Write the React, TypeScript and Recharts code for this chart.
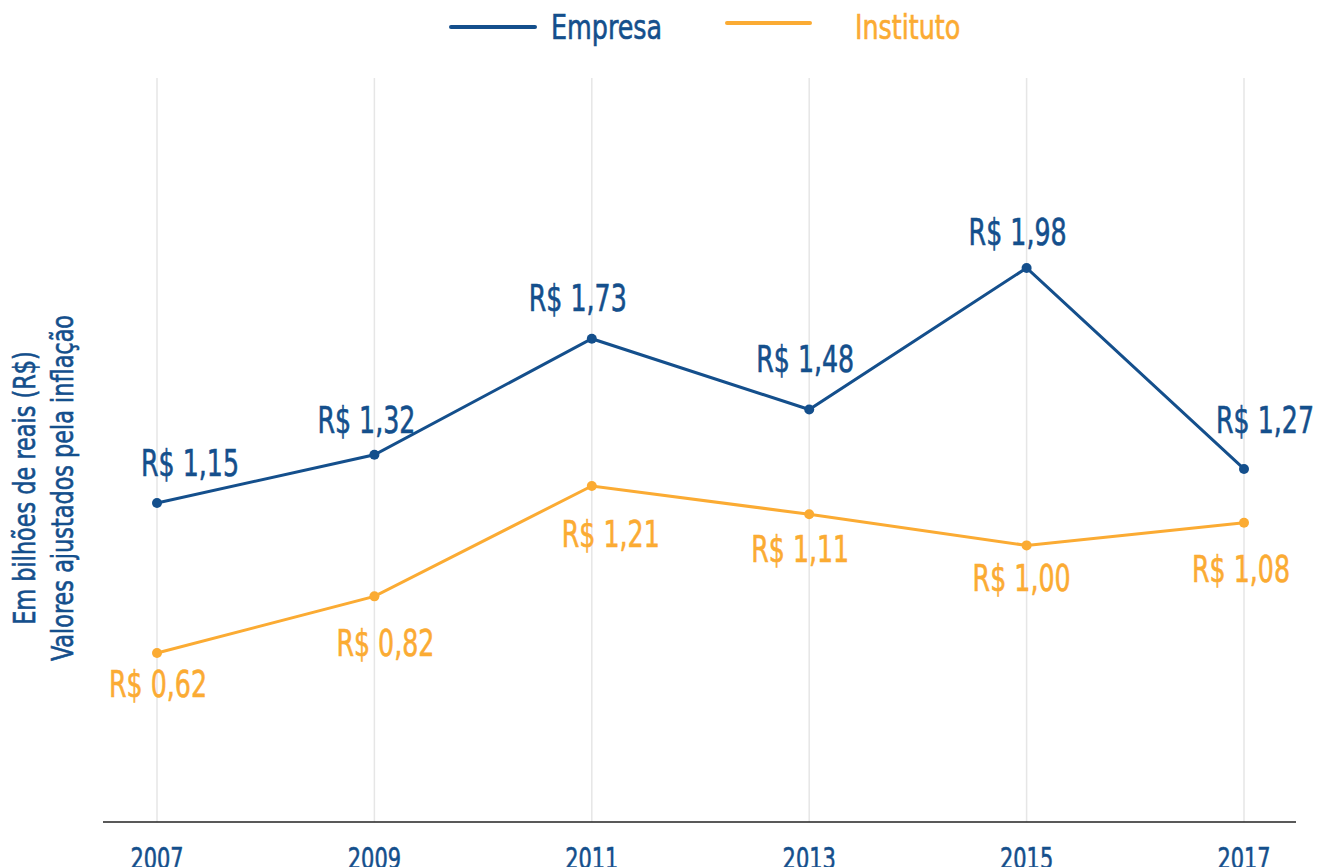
import React from 'react';
import { LineChart, Line, XAxis, YAxis, ReferenceLine, LabelList } from 'recharts';

const years = ['2007', '2009', '2011', '2013', '2015', '2017'];
const empresa = [1.15, 1.32, 1.73, 1.48, 1.98, 1.27];
const instituto = [0.62, 0.82, 1.21, 1.11, 1.0, 1.08];
const seriesNames = ['Empresa', 'Instituto'];
const yTitle = ['Em bilhões de reais (R$)', 'Valores ajustados pela inflação'];

const data = years.map((y, i) => ({ year: y, empresa: empresa[i], instituto: instituto[i] }));

const BLUE = '#144f8c';
const ORANGE = '#fbab33';
const FONT = "'DejaVu Sans Condensed', 'DejaVu Sans', sans-serif";
const TS: React.CSSProperties = { fontStretch: 'condensed' };

// label placement tweaks (dx from point centre, dy baseline relative to point)
const empDx = [33, -8, -14, -4, -9, 21];
const empDy = [-27, -22, -28, -38, -23, -36];
const insDx = [1, 11, 19, -9, -5, -3];
const insDy = [44, 60, 61, 48, 46, 59];

const fmt = (v: number) => 'R$ ' + v.toFixed(2).replace('.', ',');

const SText = (p: {
  x: number; y: number; sx: number; size: number; color: string; anchor?: string; rotate?: number; children: any;
}) => (
  <text
    transform={`translate(${p.x},${p.y})${p.rotate ? ` rotate(${p.rotate})` : ''} scale(${p.sx},1)`}
    x={0}
    y={0}
    textAnchor={(p.anchor as any) || 'start'}
    fill={p.color}
    stroke={p.color}
    strokeWidth={0.6}
    fontSize={p.size}
    fontFamily={FONT}
    style={TS}
  >
    {p.children}
  </text>
);

const makeLabel = (color: string, dxs: number[], dys: number[]) => (props: any) => {
  const { x, y, value, index } = props;
  return (
    <SText x={x + dxs[index]} y={y + dys[index]} sx={0.76} size={37} color={color} anchor="middle">
      {fmt(Number(value))}
    </SText>
  );
};

const Tick = (props: any) => {
  const { x, y, payload } = props;
  return (
    <SText x={x} y={y + 41} sx={0.75} size={31} color={BLUE} anchor="middle">
      {payload.value}
    </SText>
  );
};

export default function App() {
  return (
    <div style={{ position: 'absolute', left: 0, top: 0, background: '#fff' }}>
      <LineChart
        width={1329}
        height={867}
        data={data}
        margin={{ top: 78, right: 33, bottom: 15, left: 103 }}
      >
        {years.map((y) => (
          <ReferenceLine key={y} x={y} stroke="#e6e6e6" strokeWidth={1.5} />
        ))}
        <XAxis
          dataKey="year"
          height={30}
          padding={{ left: 54, right: 52 }}
          axisLine={{ stroke: '#222', strokeWidth: 1.5 }}
          tickLine={false}
          tick={<Tick />}
          tickMargin={0}
          interval={0}
        />
        <YAxis hide domain={[0.023, 2.651]} allowDataOverflow />
        <Line
          dataKey="empresa"
          stroke={BLUE}
          strokeWidth={3}
          dot={{ r: 5, fill: BLUE, stroke: BLUE, strokeWidth: 0 }}
          activeDot={false}
          isAnimationActive={false}
        >
          <LabelList dataKey="empresa" content={makeLabel(BLUE, empDx, empDy)} />
        </Line>
        <Line
          dataKey="instituto"
          stroke={ORANGE}
          strokeWidth={3}
          dot={{ r: 5, fill: ORANGE, stroke: ORANGE, strokeWidth: 0 }}
          activeDot={false}
          isAnimationActive={false}
        >
          <LabelList dataKey="instituto" content={makeLabel(ORANGE, insDx, insDy)} />
        </Line>
        {/* legend */}
        <line x1={451} y1={27} x2={535} y2={27} stroke={BLUE} strokeWidth={4} strokeLinecap="round" />
        <SText x={551} y={39} sx={0.83} size={34} color={BLUE}>{seriesNames[0]}</SText>
        <line x1={727} y1={23} x2={810} y2={23} stroke={ORANGE} strokeWidth={4} strokeLinecap="round" />
        <SText x={855} y={39} sx={0.83} size={34} color={ORANGE}>{seriesNames[1]}</SText>
        {/* y axis title */}
        <SText x={35} y={488} rotate={-90} sx={0.83} size={30} color={BLUE} anchor="middle">{yTitle[0]}</SText>
        <SText x={73} y={488} rotate={-90} sx={0.83} size={30} color={BLUE} anchor="middle">{yTitle[1]}</SText>
      </LineChart>
    </div>
  );
}
